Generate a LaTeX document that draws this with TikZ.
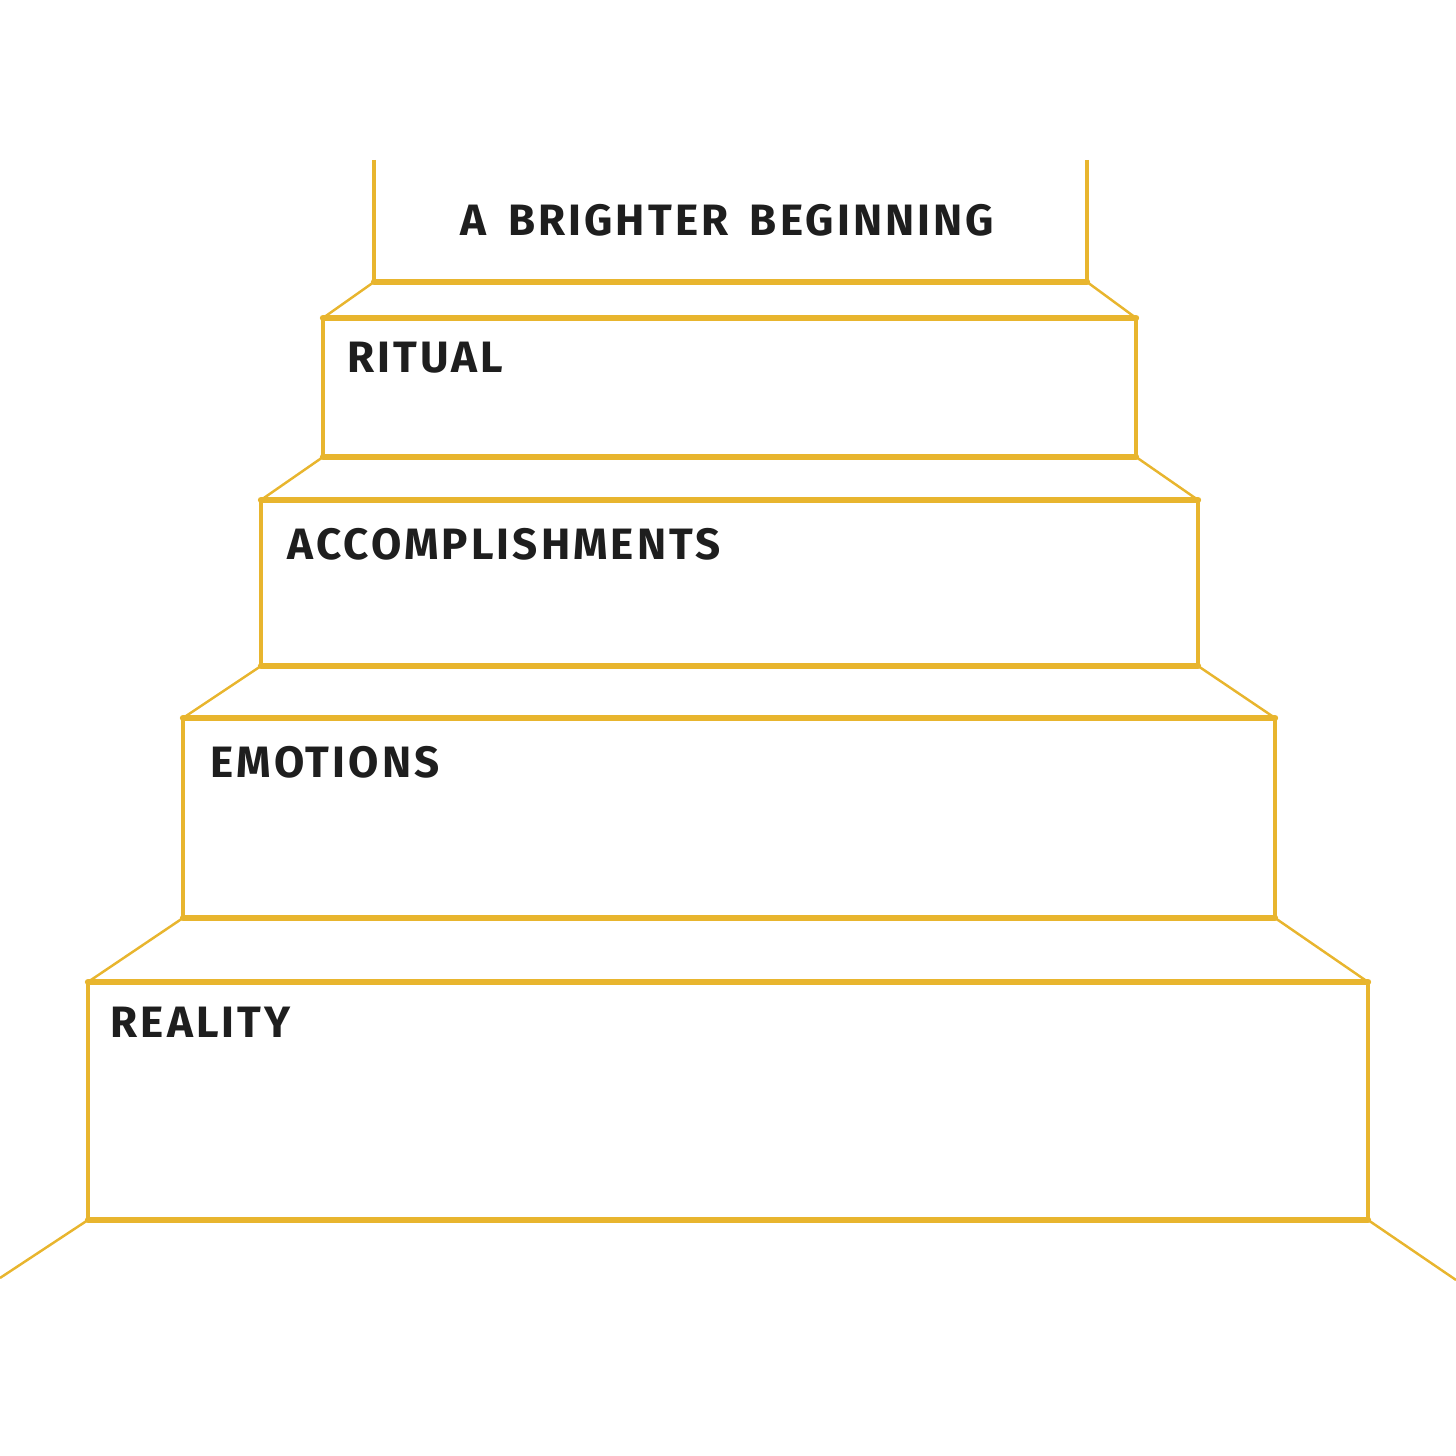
\documentclass[tikz,border=0pt]{standalone}
\usepackage{fontspec}
\newfontfamily\stepfont[LetterSpace=7,WordSpace=1.6]{Fira Sans}
\begin{document}
\begin{tikzpicture}[
  tread/.style={draw=stairGold, line width=1.8pt, line cap=round},
  riser/.style={draw=stairGold, line width=0.9pt},
  edge/.style={draw=stairGold, line width=0.7pt},
  steplabel/.style={anchor=west, inner sep=0pt, text=inkBlack, font=\stepfont\bfseries\fontsize{12.5}{14}\selectfont}
]

\definecolor{stairGold}{HTML}{E8B52E}
\definecolor{inkBlack}{HTML}{1E1E1E}
\useasboundingbox (0,0) rectangle (14.56,14.56);

% Top step (landing)
\draw[riser] (3.74,12.96) -- (3.74,11.74);
\draw[riser] (10.87,12.96) -- (10.87,11.74);
\draw[tread] (3.74,11.74) -- (10.87,11.74);
\node (brighter) at (4.60,12.36) [steplabel] {A BRIGHTER BEGINNING};

% Slants down to Ritual
\draw[edge] (3.74,11.74) -- (3.23,11.38);
\draw[edge] (10.87,11.74) -- (11.36,11.38);

% Ritual
\draw[tread] (3.23,11.38) -- (11.36,11.38);
\draw[riser] (3.23,11.38) -- (3.23,9.99);
\draw[riser] (11.36,11.38) -- (11.36,9.99);
\draw[tread] (3.23,9.99) -- (11.36,9.99);
\node (ritual) at (3.47,10.98) [steplabel] {RITUAL};

% Slants down to Accomplishments
\draw[edge] (3.23,9.99) -- (2.61,9.56);
\draw[edge] (11.36,9.99) -- (11.98,9.56);

% Accomplishments
\draw[tread] (2.61,9.56) -- (11.98,9.56);
\draw[riser] (2.61,9.56) -- (2.61,7.90);
\draw[riser] (11.98,9.56) -- (11.98,7.90);
\draw[tread] (2.61,7.90) -- (11.98,7.90);
\node (accomplishments) at (2.87,9.12) [steplabel] {ACCOMPLISHMENTS};

% Slants down to Emotions
\draw[edge] (2.61,7.90) -- (1.83,7.38);
\draw[edge] (11.98,7.90) -- (12.75,7.38);

% Emotions
\draw[tread] (1.83,7.38) -- (12.75,7.38);
\draw[riser] (1.83,7.38) -- (1.83,5.38);
\draw[riser] (12.75,7.38) -- (12.75,5.38);
\draw[tread] (1.83,5.38) -- (12.75,5.38);
\node (emotions) at (2.10,6.94) [steplabel] {EMOTIONS};

% Slants down to Reality
\draw[edge] (1.83,5.38) -- (0.88,4.74);
\draw[edge] (12.75,5.38) -- (13.68,4.74);

% Reality
\draw[tread] (0.88,4.74) -- (13.68,4.74);
\draw[riser] (0.88,4.74) -- (0.88,2.36);
\draw[riser] (13.68,4.74) -- (13.68,2.36);
\draw[tread] (0.88,2.36) -- (13.68,2.36);
\node (reality) at (1.10,4.34) [steplabel] {REALITY};

% Floor
\draw[edge] (0.88,2.36) -- (0,1.78);
\draw[edge] (13.68,2.36) -- (14.56,1.76);

\end{tikzpicture}
\end{document}
